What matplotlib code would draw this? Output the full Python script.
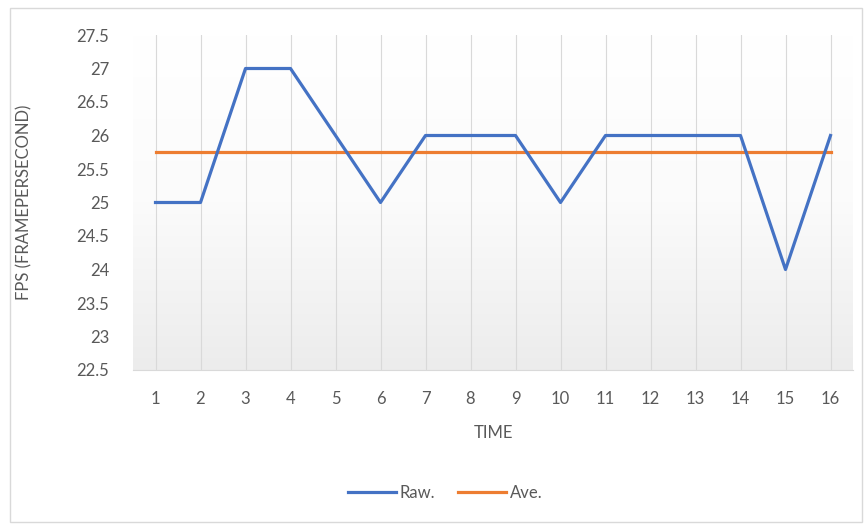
import numpy as np
import matplotlib.pyplot as plt
from matplotlib.colors import LinearSegmentedColormap
from matplotlib.patches import Rectangle

plt.rcParams['font.family'] = ['Lato', 'DejaVu Sans']

time = list(range(1, 17))
raw = [25, 25, 27, 27, 26, 25, 26, 26, 26, 25, 26, 26, 26, 26, 24, 26]
ave = [25.75] * 16
yticks = [22.5, 23, 23.5, 24, 24.5, 25, 25.5, 26, 26.5, 27, 27.5]

grey = '#595959'
fs = 12

fig = plt.figure(figsize=(8.66, 5.25), dpi=100)
fig.patches.append(Rectangle((10 / 866, 3 / 525), 852 / 866, 514 / 525,
                             transform=fig.transFigure, fill=False,
                             edgecolor='#d9d9d9', linewidth=1))

ax = fig.add_axes([133 / 866, 1 - 370 / 525, 720 / 866, 335 / 525])
ax.set_xlim(0.5, 16.5)
ax.set_ylim(22.5, 27.5)

# light vertical gradient behind the plot
grad = np.linspace(0, 1, 256).reshape(-1, 1)
bg = LinearSegmentedColormap.from_list('bg', ['#ffffff', '#fbfbfb', '#ececec'])
ax.imshow(grad, extent=[0.5, 16.5, 22.5, 27.5], aspect='auto', origin='upper',
          cmap=bg, zorder=0)

for x in time:
    ax.axvline(x, color='#d9d9d9', linewidth=0.8, zorder=1)

ax.plot(time, raw, color='#4472C4', linewidth=2.3, label='Raw.', zorder=3,
        solid_joinstyle='round')
ax.plot(time, ave, color='#ED7D31', linewidth=2.3, label='Ave.', zorder=2)

for s in ['top', 'right', 'left']:
    ax.spines[s].set_visible(False)
ax.spines['bottom'].set_color('#d9d9d9')
ax.spines['bottom'].set_zorder(4)

ax.set_xticks(time)
ax.set_yticks(yticks)
ax.set_yticklabels([f'{v:g}' for v in yticks])
ax.tick_params(axis='both', length=0, colors=grey, labelsize=fs)
ax.tick_params(axis='x', pad=15)
ax.tick_params(axis='y', pad=17)

ax.set_xlabel('TIME', color=grey, fontsize=fs)
ax.set_ylabel('FPS (FRAMEPERSECOND)', color=grey, fontsize=fs)
ax.xaxis.set_label_coords(0.5, -0.165)
ax.yaxis.set_label_coords(-0.14, 0.5)

fig.legend(loc='center', bbox_to_anchor=(445 / 866, 1 - 493 / 525), ncol=2,
           frameon=False, fontsize=fs, labelcolor=grey, handlelength=2.9,
           handletextpad=0.2, columnspacing=1.4)

fig.savefig('out.png', dpi=100)
